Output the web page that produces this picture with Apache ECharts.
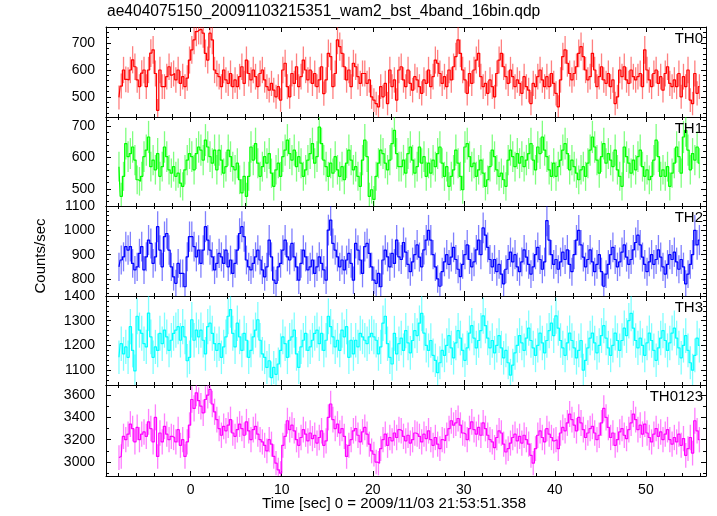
<!DOCTYPE html>
<html>
<head>
<meta charset="utf-8">
<script src="https://cdn.jsdelivr.net/npm/echarts@6/dist/echarts.min.js"></script>
<style>html,body{margin:0;padding:0;background:#fff;}#c{width:717px;height:516px;}</style>
</head>
<body>
<div id="c"></div>
<script>
// ---- data: 0.25 s bins starting at t = -8 s ----
const binStart = -8;
const binWidth = 0.25;
const th0 = [
498,540,600,565, 563,600,638,612, 563,538,588,600, 538,600,663,675, 587,450,600,538, 538,575,612,581, 587,563,600,550, 575,538,570,637,
675,712,743,750, 750,737,662,637, 737,712,600,587, 575,538,600,563, 550,587,538,563, 538,575,612,550, 637,587,563,600, 575,538,587,600,
563,538,525,550, 525,500,538,488, 600,625,538,500, 587,550,612,538, 575,637,600,563, 600,550,587,538, 563,612,512,563, 662,650,538,587,
712,687,662,612, 563,600,538,625, 612,575,550,587, 587,550,563,500, 488,475,463,538, 500,550,475,600, 538,563,488,600, 612,563,538,600,
550,525,575,563, 538,513,563,550, 600,538,575,637, 625,587,550,575, 538,600,563,612, 650,712,662,600, 563,513,587,550, 600,637,662,575,
538,550,513,563, 538,500,587,637, 662,612,575,550, 600,575,538,563, 550,513,575,538, 525,475,550,538, 575,600,563,538, 575,538,587,550,
513,463,563,650, 675,625,587,563, 587,612,662,687, 650,600,563,575, 662,600,538,575, 612,563,550,587, 538,563,475,500, 600,575,612,563,
550,600,575,563, 575,587,538,675, 600,563,538,587, 600,550,575,525, 587,612,550,538, 563,538,587,500, 575,538,600,488, 475,587,513,538];
const th1 = [
571,476,540,645, 603,613,634,592, 529,524,540,603, 624,666,571,592, 561,613,540,571, 634,603,561,550, 571,540,550,518, 508,561,592,613,
603,561,613,634, 624,592,656,634, 603,582,624,561, 624,592,550,571, 624,603,571,561, 582,529,487,540, 476,540,634,592, 645,582,540,571,
603,582,613,550, 508,561,582,540, 603,624,656,613, 592,624,571,603, 582,540,561,592, 613,645,582,603, 698,645,592,571, 540,582,550,603,
561,540,571,529, 582,624,592,561, 571,540,508,592, 656,603,476,497, 466,540,582,624, 613,582,561,592, 645,687,613,571, 571,592,550,613,
634,592,550,571, 634,582,603,540, 582,550,592,571, 613,634,582,540, 571,508,540,561, 624,582,540,497, 634,645,603,571, 582,540,561,592,
550,508,529,571, 624,603,561,540, 550,529,508,592, 624,603,571,613, 582,603,571,592, 613,645,592,561, 634,613,666,624, 603,561,540,582,
540,571,592,624, 645,613,561,592, 571,550,529,561, 571,540,582,624, 666,634,592,550, 603,645,582,613, 592,571,624,561, 540,508,634,603,
582,550,592,561, 603,624,571,540, 561,529,540,592, 656,603,540,561, 540,571,508,550, 582,634,603,550, 666,687,624,561, 613,592,634,582];
const th2 = [
850,878,891,933, 919,933,864,837, 850,905,933,837, 891,960,946,864, 891,1015,919,850, 974,987,919,850, 809,782,864,823, 823,768,891,974,
974,933,891,919, 864,919,1015,960, 919,891,837,864, 905,891,864,919, 850,878,823,864, 919,987,1015,974, 878,850,837,864, 891,919,878,837,
809,850,960,891, 795,782,850,864, 919,960,891,878, 946,891,850,795, 864,919,891,837, 850,878,823,850, 891,864,837,795, 1001,1042,946,919,
891,850,878,837, 878,905,864,795, 946,919,878,823, 933,946,905,850, 795,782,823,768, 878,919,891,850, 905,864,960,891, 880,950,910,860,
830,870,900,940, 890,850,920,960, 1000,960,900,850, 800,770,830,870, 900,860,890,930, 880,840,810,860, 900,940,880,850, 870,920,960,900,
1010,980,930,880, 850,880,830,860, 820,780,840,880, 910,870,900,850, 830,870,920,890, 860,820,850,900, 930,880,840,870, 1040,960,900,860,
880,840,870,910, 880,920,860,830, 900,960,1000,940, 890,850,880,920, 870,830,860,900, 830,770,820,860, 900,930,880,850, 870,910,940,890,
860,880,920,950, 980,940,890,860, 830,870,900,860, 880,920,890,850, 820,860,900,880, 910,870,840,880, 850,780,820,860, 900,1000,940,960];
const th3 = [
1152,1207,1166,1194, 1152,1276,1180,1097, 1318,1262,1249,1207, 1194,1331,1235,1152, 1194,1180,1249,1207, 1262,1235,1180,1221, 1249,1262,1276,1221, 1276,1235,1138,1152,
1304,1221,1262,1235, 1262,1221,1166,1276, 1290,1249,1207,1180, 1207,1152,1194,1235, 1318,1345,1249,1194, 1290,1235,1180,1249, 1221,1152,1180,1235, 1262,1304,1221,1166,
1152,1111,1138,1070, 1111,1083,1125,1180, 1235,1207,1152,1221, 1235,1262,1166,1111, 1194,1221,1249,1180, 1194,1221,1249,1262, 1207,1249,1180,1221, 1318,1276,1235,1194,
1221,1180,1262,1235, 1276,1152,1221,1166, 1221,1194,1249,1235, 1221,1207,1235,1249, 1235,1221,1166,1194, 1290,1318,1207,1152, 1125,1249,1166,1207, 1230,1180,1260,1210,
1170,1220,1260,1240, 1290,1330,1250,1200, 1180,1220,1160,1140, 1090,1130,1180,1160, 1200,1240,1190,1150, 1210,1260,1230,1180, 1140,1190,1250,1280, 1230,1190,1220,1260,
1320,1280,1230,1190, 1220,1170,1200,1240, 1190,1150,1180,1130, 1080,1120,1170,1200, 1240,1210,1180,1230, 1270,1220,1190,1160, 1200,1250,1210,1170, 1220,1260,1290,1240,
1320,1270,1220,1190, 1160,1210,1250,1220, 1190,1150,1180,1220, 1100,1140,1190,1230, 1250,1210,1170,1200, 1240,1280,1230,1190, 1160,1200,1250,1220, 1180,1220,1270,1240,
1300,1330,1270,1220, 1190,1230,1200,1160, 1210,1250,1220,1180, 1140,1190,1230,1260, 1220,1180,1210,1250, 1270,1230,1190,1150, 1200,1240,1180,1130, 1100,1160,1230,1200];
const th0123 = [
3040,3050,3230,3200, 3250,3340,3300,3180, 3310,3200,3250,3270, 3230,3360,3300,3180, 3400,3050,3260,3180, 3320,3250,3200,3230, 3220,3180,3290,3150, 3200,3050,3180,3330,
3560,3480,3620,3550, 3500,3440,3560,3600, 3650,3520,3450,3380, 3300,3240,3320,3280, 3330,3380,3260,3230, 3290,3340,3300,3240, 3360,3280,3200,3290, 3320,3250,3200,3180,
3150,3100,3200,3160, 3050,2990,2930,2900, 3150,3230,3370,3290, 3330,3280,3200,3150, 3220,3290,3250,3190, 3260,3210,3240,3170, 3220,3280,3150,3190, 3400,3520,3380,3300,
3340,3260,3300,3230, 3050,3150,3200,3280, 3300,3240,3180,3270, 3310,3250,3160,3100, 3070,3000,2990,3120, 3200,3250,3150,3220, 3190,3260,3220,3290, 3280,3230,3190,3240,
3170,3200,3260,3250, 3230,3180,3250,3210, 3280,3200,3150,3220, 3160,3120,3200,3190, 3240,3300,3370,3330, 3350,3390,3330,3260, 3250,3200,3300,3360, 3290,3250,3310,3240,
3350,3300,3240,3200, 3180,3130,3220,3280, 3260,3160,3090,3120, 3170,3220,3250,3190, 3230,3170,3240,3200, 3160,3060,2990,3120, 3240,3280,3220,3180, 3300,3250,3220,3190,
3200,3120,3260,3310, 3280,3350,3430,3380, 3330,3280,3400,3350, 3290,3220,3260,3300, 3320,3260,3200,3240, 3350,3480,3400,3310, 3220,3260,3150,3200, 3270,3300,3240,3210,
3290,3350,3430,3380, 3290,3330,3250,3340, 3260,3220,3180,3250, 3300,3230,3270,3200, 3250,3290,3200,3160, 3220,3180,3250,3150, 3210,3060,3120,3220, 3080,3370,3280,3200];

const panelNames = ['TH0', 'TH1', 'TH2', 'TH3', 'TH0123'];
const panelSeries = [th0, th1, th2, th3, th0123];
const yRanges = [[425, 760], [445, 730], [730, 1100], [1040, 1400], [2875, 3690]];
const yMajorTicks = [
  [500, 600, 700],
  [500, 600, 700],
  [800, 900, 1000, 1100],
  [1100, 1200, 1300, 1400],
  [3000, 3200, 3400, 3600]];
const yMinorTicks = [
  [440, 460, 480, 520, 540, 560, 580, 620, 640, 660, 680, 720, 740],
  [460, 480, 520, 540, 560, 580, 620, 640, 660, 680, 720],
  [740, 760, 780, 820, 840, 860, 880, 920, 940, 960, 980, 1020, 1040, 1060, 1080],
  [1060, 1080, 1120, 1140, 1160, 1180, 1220, 1240, 1260, 1280, 1320, 1340, 1360, 1380],
  [2900, 3100, 3300, 3500]];
const xRange = [-9.3, 56.6];
const xMajorTicks = [0, 10, 20, 30, 40, 50];
const xMinorTicks = [-8, -6, -4, -2, 2, 4, 6, 8, 12, 14, 16, 18, 22, 24, 26, 28, 32, 34, 36, 38, 42, 44, 46, 48, 52, 54, 56];
const mainTitle = 'ae404075150_20091103215351_wam2_bst_4band_16bin.qdp';
const yTitle = 'Counts/sec';
const xTitle = 'Time [sec] 0 = 2009/11/03 21:53:51.358';

// ---- layout / style ----
const FONT = '"Liberation Sans", Arial, Helvetica, sans-serif';
const panelColors = ['#ff0000', '#00ff00', '#0000ff', '#00ffff', '#ff00ff'];
const gridTops = [27, 117, 206, 296, 385];
const gridHeights = [90, 89, 90, 89, 91];
const plotLeft = 106, plotWidth = 600;

const grids = [], xAxes = [], yAxes = [], series = [], graphics = [];
const plainNum = function (v) { return String(v); };

function mkX(i, pos, ticks, len, main, labels) {
  return {
    type: 'value', gridIndex: i, position: pos, min: xRange[0], max: xRange[1],
    axisLine: {show: main, onZero: false, lineStyle: {color: '#000', width: 1}},
    axisTick: {show: true, inside: true, length: len, customValues: ticks, lineStyle: {color: '#000', width: 1}},
    axisLabel: {show: labels, customValues: xMajorTicks, formatter: plainNum, margin: 7, color: '#000', fontSize: 14, fontFamily: FONT},
    splitLine: {show: false}, minorTick: {show: false}, minorSplitLine: {show: false}
  };
}
function mkY(i, pos, ticks, len, main, labels) {
  return {
    type: 'value', gridIndex: i, position: pos, min: yRanges[i][0], max: yRanges[i][1],
    axisLine: {show: main, onZero: false, lineStyle: {color: '#000', width: 1}},
    axisTick: {show: true, inside: true, length: len, customValues: ticks, lineStyle: {color: '#000', width: 1}},
    axisLabel: {show: labels, customValues: yMajorTicks[i], formatter: plainNum, margin: 11, color: '#000', fontSize: 14, fontFamily: FONT},
    splitLine: {show: false}, minorTick: {show: false}, minorSplitLine: {show: false}
  };
}

function makeErrRender(color) {
  return function (params, api) {
    const x = api.value(0), v = api.value(1), e = api.value(2);
    const p1 = api.coord([x, v + e]);
    const p2 = api.coord([x, v - e]);
    return {
      type: 'line',
      shape: {x1: p1[0], y1: p1[1], x2: p2[0], y2: p2[1]},
      style: {stroke: color, lineWidth: 1.3, opacity: 0.5}
    };
  };
}

panelNames.forEach(function (name, i) {
  grids.push({left: plotLeft, width: plotWidth, top: gridTops[i], height: gridHeights[i], containLabel: false, outerBoundsMode: 'none'});
  const last = i === panelNames.length - 1;
  xAxes.push(mkX(i, 'bottom', xMajorTicks, 5, true, last));
  xAxes.push(mkX(i, 'bottom', xMinorTicks, 3, false, false));
  xAxes.push(mkX(i, 'top', xMajorTicks, 5, true, false));
  xAxes.push(mkX(i, 'top', xMinorTicks, 3, false, false));
  yAxes.push(mkY(i, 'left', yMajorTicks[i], 5, true, true));
  yAxes.push(mkY(i, 'left', yMinorTicks[i], 3, false, false));
  yAxes.push(mkY(i, 'right', yMajorTicks[i], 5, true, false));
  yAxes.push(mkY(i, 'right', yMinorTicks[i], 3, false, false));

  const vals = panelSeries[i];
  const pts = vals.map(function (v, k) {
    const t = binStart + binWidth * (k + 0.5);
    // Poisson error for a 0.25 s bin: sqrt(v*0.25)/0.25
    return [t, v, Math.sqrt(v / binWidth)];
  });
  series.push({
    type: 'custom', xAxisIndex: 4 * i, yAxisIndex: 4 * i,
    renderItem: makeErrRender(panelColors[i]),
    data: pts, encode: {x: 0, y: 1}, clip: true, silent: true, animation: false, z: 2
  });
  series.push({
    type: 'line', xAxisIndex: 4 * i, yAxisIndex: 4 * i,
    data: pts.map(function (p) { return [p[0], p[1]]; }),
    step: 'middle', symbol: 'none', showSymbol: false,
    lineStyle: {color: panelColors[i], width: 1.2}, itemStyle: {color: panelColors[i]},
    clip: true, silent: true, animation: false, z: 3
  });
  graphics.push({
    type: 'text', right: 717 - 703, top: gridTops[i] + 4, z: 10,
    style: {text: name, fill: '#000', font: '15px ' + FONT}
  });
});

graphics.push({type: 'text', left: 107, top: 4, style: {text: mainTitle, fill: '#000', font: '15.6px ' + FONT}});
graphics.push({type: 'text', x: 41, y: 256, rotation: Math.PI / 2,
  style: {text: yTitle, fill: '#000', font: '15px ' + FONT, align: 'center', verticalAlign: 'middle'}});
graphics.push({type: 'text', x: 394, y: 504,
  style: {text: xTitle, fill: '#000', font: '15px ' + FONT, align: 'center', verticalAlign: 'middle'}});

const chart = echarts.init(document.getElementById('c'), null, {renderer: 'canvas'});
chart.setOption({
  animation: false,
  backgroundColor: '#fff',
  grid: grids,
  xAxis: xAxes,
  yAxis: yAxes,
  series: series,
  graphic: graphics
});
</script>
</body>
</html>
